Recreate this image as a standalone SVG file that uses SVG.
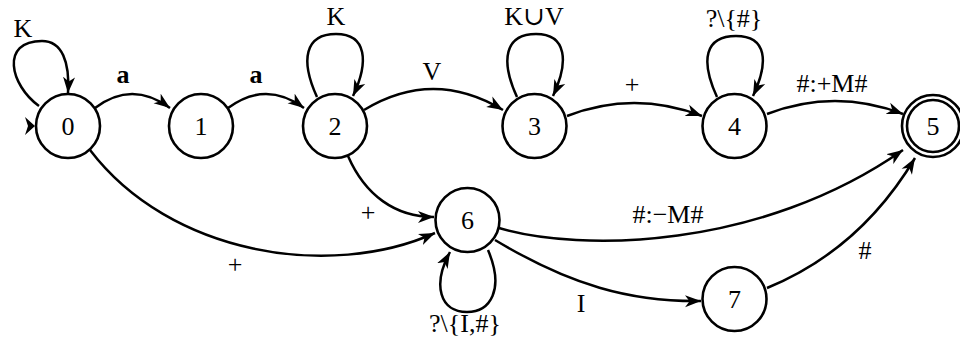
<svg xmlns="http://www.w3.org/2000/svg" width="960" height="343" viewBox="0 0 960 343">
<style>
.n{fill:#fff;stroke:#000;stroke-width:2.6}
.e{fill:none;stroke:#000;stroke-width:2.5;marker-end:url(#ah)}
text{font-family:"Liberation Serif","Times New Roman","DejaVu Serif",serif;font-size:26px;fill:#000;text-anchor:middle}
.b{font-weight:bold}
</style>
<defs>
<marker id="ah" markerUnits="userSpaceOnUse" markerWidth="17" markerHeight="13" refX="16" refY="6.5" orient="auto" viewBox="0 0 17 13">
<path d="M0,0.5 L16,6.5 L0,12.5 L4.5,6.5 Z" fill="#000"/>
</marker>
</defs>
<rect width="960" height="343" fill="#fff"/>
<g id="edges">
<path class="e" d="M39,106 C10,85 0,41 42,41 C62,41 70,62 68,93"/>
<path class="e" d="M95,108 Q132,80 170,108"/>
<path class="e" d="M228,108 Q266,80 304,108"/>
<path class="e" d="M317,97 C300,60 305,34 336,34 C367,34 369,62 353,96"/>
<path class="e" d="M364,110 Q433,68 503,110"/>
<path class="e" d="M517,97 C500,60 505,34 536,34 C567,34 569,62 553,96"/>
<path class="e" d="M567,116 Q634,90 702,116"/>
<path class="e" d="M717,97 C700,60 705,36 736,36 C767,36 769,62 753,96"/>
<path class="e" d="M767,114 Q835,88 903,114"/>
<path class="e" d="M348,156 C365,195 395,217 434,217"/>
<path class="e" d="M90,150 C170,255 330,280 435,233"/>
<path class="e" d="M499,228 C580,252 760,250 903,150"/>
<path class="e" d="M495,240 C570,285 630,302 701,301"/>
<path class="e" d="M488,250 C505,290 490,312 467,312 C440,312 432,285 450,252"/>
<path class="e" d="M767,288 Q860,250 915,158"/>
<path d="M35,126 L25,117 L28,126 L25,135 Z" fill="#000"/>
</g>
<g id="node0"><circle class="n" cx="68" cy="126" r="32"/><text x="68" y="134.5">0</text></g>
<g id="node1"><circle class="n" cx="201" cy="126" r="32"/><text x="201" y="134.5">1</text></g>
<g id="node2"><circle class="n" cx="335" cy="126" r="32"/><text x="335" y="134.5">2</text></g>
<g id="node3"><circle class="n" cx="534.5" cy="126" r="32"/><text x="534.5" y="134.5">3</text></g>
<g id="node4"><circle class="n" cx="734.5" cy="126" r="32"/><text x="734.5" y="134.5">4</text></g>
<g id="node5"><circle class="n" cx="933" cy="126" r="31"/><circle class="n" cx="933" cy="126" r="26"/><text x="933" y="134.5">5</text></g>
<g id="node6"><circle class="n" cx="467.5" cy="220" r="32"/><text x="467.5" y="228.5">6</text></g>
<g id="node7"><circle class="n" cx="734.5" cy="299" r="32"/><text x="734.5" y="307.5">7</text></g>
<g id="labels">
<text x="23" y="37">K</text>
<text class="b" x="123" y="83">a</text>
<text class="b" x="256" y="83">a</text>
<text x="336" y="25">K</text>
<text x="432" y="80">V</text>
<text x="534" y="25">K∪V</text>
<text x="734" y="27">?\{#}</text>
<text x="632" y="93">+</text>
<text x="832" y="92">#:+M#</text>
<text x="368" y="221">+</text>
<text x="235" y="273">+</text>
<text x="668" y="223">#:−M#</text>
<text x="581" y="312">I</text>
<text x="465" y="332">?\{I,#}</text>
<text x="865" y="259">#</text>
</g>
</svg>
